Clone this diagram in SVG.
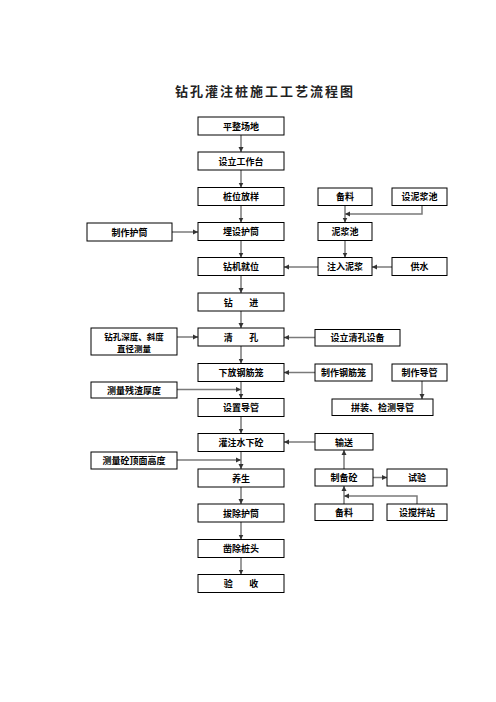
<svg xmlns="http://www.w3.org/2000/svg" width="496" height="702" viewBox="0 0 496 702">
<style>
.b{fill:#fff;stroke:#000;stroke-width:1}
.t{font-family:"Noto Sans CJK SC","Noto Sans CJK TC",sans-serif;font-size:9px;font-weight:bold;text-anchor:middle;dominant-baseline:central;fill:#000;white-space:pre}
.s{font-size:8.5px}
.c{fill:none;stroke:#7a7a7a;stroke-width:1.5}
.title{font-family:"Noto Sans CJK SC",sans-serif;font-size:13px;font-weight:bold;text-anchor:middle;dominant-baseline:central;letter-spacing:2px;fill:#222}
</style>
<defs>
<marker id="a" markerWidth="6" markerHeight="6" refX="5" refY="3" orient="auto" markerUnits="userSpaceOnUse">
<path d="M0,0.5 L5,3 L0,5.5 Z" fill="#333"/>
</marker>
</defs>
<rect width="496" height="702" fill="#fff"/>
<text class="title" x="265" y="90">钻孔灌注桩施工工艺流程图</text>

<g id="connectors">
<path class="c" d="M241,135 V152" marker-end="url(#a)"/>
<path class="c" d="M241,170 V187.5" marker-end="url(#a)"/>
<path class="c" d="M241,205.5 V222.5" marker-end="url(#a)"/>
<path class="c" d="M241,240.5 V257.5" marker-end="url(#a)"/>
<path class="c" d="M241,275.5 V293" marker-end="url(#a)"/>
<path class="c" d="M241,311 V328" marker-end="url(#a)"/>
<path class="c" d="M241,346 V363.5" marker-end="url(#a)"/>
<path class="c" d="M241,381.5 V398.5" marker-end="url(#a)"/>
<path class="c" d="M241,416.5 V433.5" marker-end="url(#a)"/>
<path class="c" d="M241,451.5 V469" marker-end="url(#a)"/>
<path class="c" d="M241,487 V504" marker-end="url(#a)"/>
<path class="c" d="M241,522 V539.5" marker-end="url(#a)"/>
<path class="c" d="M241,557.5 V574.5" marker-end="url(#a)"/>
<path class="c" d="M172,232 H198" marker-end="url(#a)"/>
<path class="c" d="M177,337 H198" marker-end="url(#a)"/>
<path class="c" d="M177,389.5 H241" marker-end="url(#a)"/>
<path class="c" d="M177,460 H241" marker-end="url(#a)"/>
<path class="c" d="M345,205.5 V222.5" marker-end="url(#a)"/>
<path class="c" d="M422,205.5 V214 H345" marker-end="url(#a)"/>
<path class="c" d="M345,240.5 V257.5" marker-end="url(#a)"/>
<path class="c" d="M392,267 H372" marker-end="url(#a)"/>
<path class="c" d="M318,267 H284" marker-end="url(#a)"/>
<path class="c" d="M315,337.5 H284" marker-end="url(#a)"/>
<path class="c" d="M315,372.5 H284" marker-end="url(#a)"/>
<path class="c" d="M422,381 V399" marker-end="url(#a)"/>
<path class="c" d="M315,442 H284" marker-end="url(#a)"/>
<path class="c" d="M344,469 V450" marker-end="url(#a)"/>
<path class="c" d="M373,477.5 H387" marker-end="url(#a)"/>
<path class="c" d="M344,504 V486" marker-end="url(#a)"/>
<path class="c" d="M417,504 V496 H344" marker-end="url(#a)"/>
</g>

<g id="n1"><rect class="b" x="198" y="117" width="86" height="18"/><text class="t" x="241" y="126">平整场地</text></g>
<g id="n2"><rect class="b" x="198" y="152" width="86" height="18"/><text class="t" x="241" y="161">设立工作台</text></g>
<g id="n3"><rect class="b" x="198" y="187.5" width="86" height="18"/><text class="t" x="241" y="196.5">桩位放样</text></g>
<g id="n4"><rect class="b" x="198" y="222.5" width="86" height="18"/><text class="t" x="241" y="231.5">埋设护筒</text></g>
<g id="n5"><rect class="b" x="198" y="257.5" width="86" height="18"/><text class="t" x="241" y="266.5">钻机就位</text></g>
<g id="n6"><rect class="b" x="198" y="293" width="86" height="18"/><text class="t" x="241" y="302">钻        进</text></g>
<g id="n7"><rect class="b" x="198" y="328" width="86" height="18"/><text class="t" x="241" y="337">清        孔</text></g>
<g id="n8"><rect class="b" x="198" y="363.5" width="86" height="18"/><text class="t" x="241" y="372.5">下放钢筋笼</text></g>
<g id="n9"><rect class="b" x="198" y="398.5" width="86" height="18"/><text class="t" x="241" y="407.5">设置导管</text></g>
<g id="n10"><rect class="b" x="198" y="433.5" width="86" height="18"/><text class="t" x="241" y="442.5">灌注水下砼</text></g>
<g id="n11"><rect class="b" x="198" y="469" width="86" height="18"/><text class="t" x="241" y="478">养生</text></g>
<g id="n12"><rect class="b" x="198" y="504" width="86" height="18"/><text class="t" x="241" y="513">拔除护筒</text></g>
<g id="n13"><rect class="b" x="198" y="539.5" width="86" height="18"/><text class="t" x="241" y="548.5">凿除桩头</text></g>
<g id="n14"><rect class="b" x="198" y="574.5" width="86" height="18"/><text class="t" x="241" y="583.5">验        收</text></g>

<g id="l1"><rect class="b" x="87" y="223" width="85" height="18"/><text class="t" x="129.5" y="232">制作护筒</text></g>
<g id="l2"><rect class="b" x="91" y="328" width="86" height="27"/><text class="t s" x="134" y="336">钻孔深度、斜度</text><text class="t s" x="134" y="347.5">直径测量</text></g>
<g id="l3"><rect class="b" x="91" y="382" width="86" height="16"/><text class="t" x="134" y="390">测量残渣厚度</text></g>
<g id="l4"><rect class="b" x="91" y="452" width="86" height="17"/><text class="t" x="134" y="460.5">测量砼顶面高度</text></g>

<g id="r1"><rect class="b" x="318" y="188" width="54" height="17.5"/><text class="t" x="345" y="196.5">备料</text></g>
<g id="r2"><rect class="b" x="392" y="188" width="55" height="17.5"/><text class="t" x="419.5" y="196.5">设泥浆池</text></g>
<g id="r3"><rect class="b" x="318" y="222.5" width="54" height="18"/><text class="t" x="345" y="231.5">泥浆池</text></g>
<g id="r4"><rect class="b" x="318" y="257.5" width="54" height="18"/><text class="t" x="345" y="266.5">注入泥浆</text></g>
<g id="r5"><rect class="b" x="392" y="257.5" width="55" height="18"/><text class="t" x="419.5" y="266.5">供水</text></g>
<g id="r6"><rect class="b" x="315" y="329.5" width="85" height="16.5"/><text class="t" x="357.5" y="337.5">设立清孔设备</text></g>
<g id="r7"><rect class="b" x="315" y="364" width="57" height="17"/><text class="t" x="343.5" y="372.5">制作钢筋笼</text></g>
<g id="r8"><rect class="b" x="392" y="364" width="55" height="17"/><text class="t" x="419.5" y="372.5">制作导管</text></g>
<g id="r9"><rect class="b" x="332" y="399" width="101" height="16.5"/><text class="t" x="382.5" y="407.5">拼装、检测导管</text></g>
<g id="r10"><rect class="b" x="315" y="433.5" width="58" height="16.5"/><text class="t" x="344" y="442">输送</text></g>
<g id="r11"><rect class="b" x="315" y="469" width="58" height="17"/><text class="t" x="344" y="477.5">制备砼</text></g>
<g id="r12"><rect class="b" x="387" y="469" width="60" height="17"/><text class="t" x="417" y="477.5">试验</text></g>
<g id="r13"><rect class="b" x="315" y="504" width="58" height="16.5"/><text class="t" x="344" y="512.5">备料</text></g>
<g id="r14"><rect class="b" x="387" y="504" width="60" height="16.5"/><text class="t" x="417" y="512.5">设搅拌站</text></g>
</svg>
